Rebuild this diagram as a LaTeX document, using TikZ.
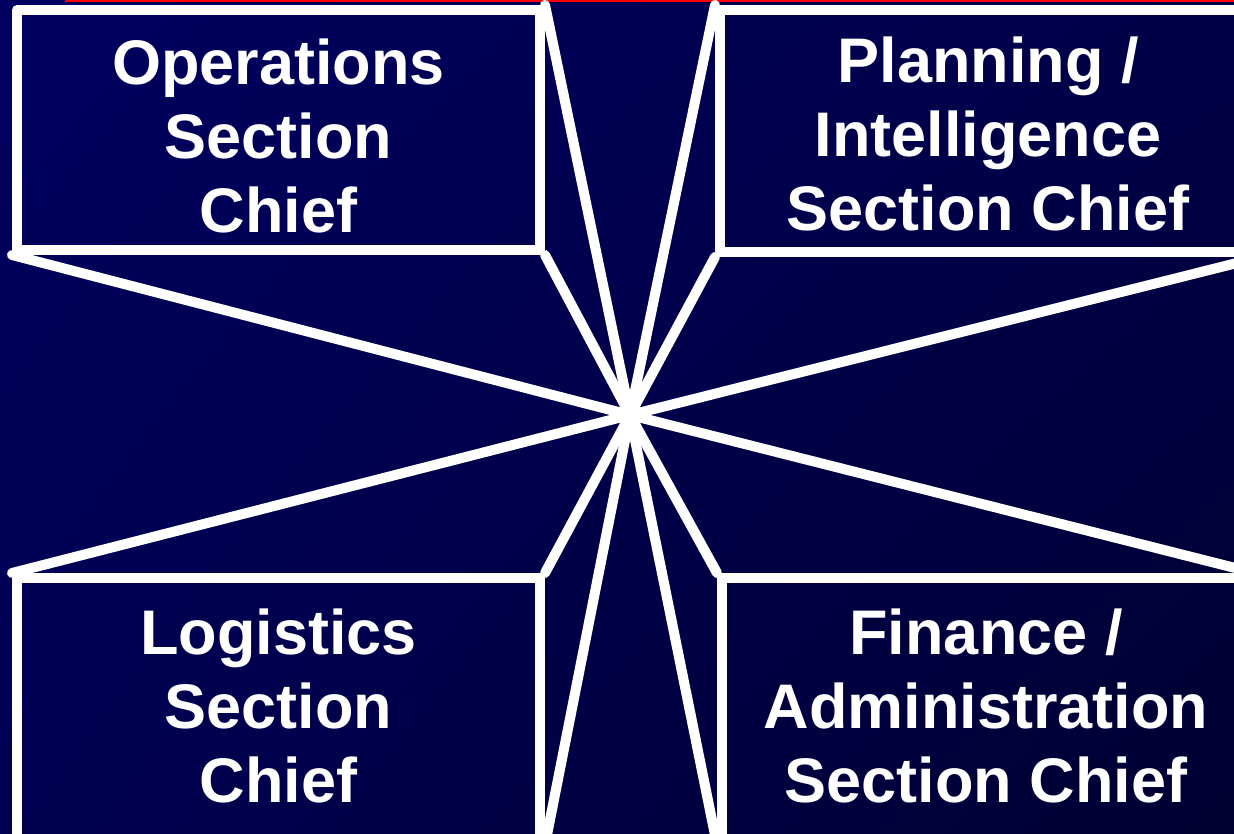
\documentclass[tikz,border=0pt]{standalone}
\usepackage{fontspec}
\setmainfont{Liberation Sans}
\usetikzlibrary{shapes,shadings}
\definecolor{bg_ul}{RGB}{0,0,96}
\definecolor{bg_ur}{RGB}{0,0,72}
\definecolor{bg_ll}{RGB}{0,0,82}
\definecolor{bg_lr}{RGB}{0,0,50}
\definecolor{rule_red}{RGB}{255,0,0}

\begin{document}
\begin{tikzpicture}[x=1pt,y=-1pt,line width=10pt,line join=round,line cap=round]
    \tikzstyle{section}=[draw=white, rectangle, inner sep=0pt]
    \tikzstyle{title}=[text=white, align=center, inner sep=0pt, font=\bfseries\fontsize{63}{74}\selectfont]
    \tikzstyle{spoke}=[draw=white]

    \useasboundingbox (0,0) rectangle (1234,834);
    \clip (0,0) rectangle (1234,834);
    \shade[upper left=bg_ul, upper right=bg_ur, lower left=bg_ll, lower right=bg_lr] (0,0) rectangle (1234,834);
    \draw[rule_red, line width=3pt, line cap=butt] (65,1) -- (1234,1);

    \coordinate (hub) at (630,415);

    \node[section, minimum width=523pt, minimum height=240pt] (ops)  at (278.5,130) {};
    \node[section, minimum width=536pt, minimum height=242pt] (plan) at (988,131)   {};
    \node[section, minimum width=523pt, minimum height=262pt] (log)  at (278.5,709) {};
    \node[section, minimum width=528pt, minimum height=262pt] (fin)  at (986,709)   {};

    \node[title] (ops_t)  at ([yshift=-6pt]ops.center)  {Operations\\Section\\Chief};
    \node[title] (plan_t) at ([yshift=-3pt]plan.center) {Planning /\\Intelligence\\Section Chief};
    \node[title] (log_t)  at ([yshift=3pt]log.center)   {Logistics\\Section\\Chief};
    \node[title] (fin_t)  at ([yshift=3pt]fin.center)   {Finance /\\Administration\\Section Chief};

    \path[spoke]
     (ops.north east) edge (hub)
     (ops.south east) edge (hub)
     (ops.south west) edge (hub)
     (plan.north west) edge (hub)
     (plan.south west) edge (hub)
     (plan.south east) edge (hub)
     (log.north west) edge (hub)
     (log.north east) edge (hub)
     (log.south east) edge (hub)
     (fin.north west) edge (hub)
     (fin.south west) edge (hub)
     (fin.north east) edge (hub);
\end{tikzpicture}
\end{document}
